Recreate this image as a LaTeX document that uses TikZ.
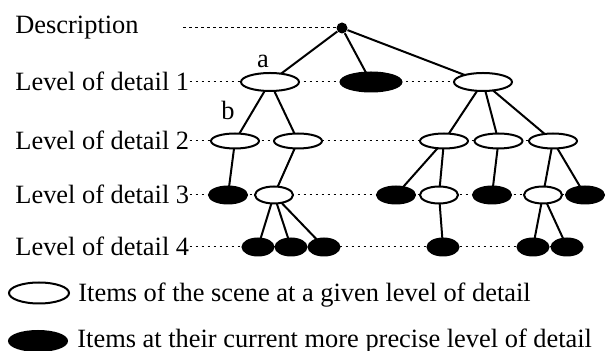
\documentclass[tikz,border=0pt]{standalone}
\usepackage{fontspec}
\setmainfont{Liberation Serif}
\usetikzlibrary{chains,positioning,shapes.geometric,backgrounds}

\begin{document}
\begin{tikzpicture}[
x=0.5pt, y=-0.5pt,
node distance=0pt,
font=\fontsize{13.2}{15}\selectfont,
    E/.style = {ellipse, draw, line width=1pt,% items of the scene
                inner sep=0pt, outer sep=0pt},
    W/.style = {E, fill=white},  % item at a given level
    K/.style = {E, fill=black},  % item at its most precise level
   L1/.style = {minimum width=29pt, minimum height=9pt},
   L2/.style = {minimum width=24pt, minimum height=7.5pt},
   L3/.style = {minimum width=19pt, minimum height=8.5pt},
   L4/.style = {minimum width=15.5pt, minimum height=8.5pt},
  lbl/.style = {anchor=base west, inner sep=0pt},
  dot/.style = {dash pattern=on 1.25pt off 1.75pt, line width=0.5pt},
 link/.style = {line width=1pt},
                    ]
\useasboundingbox (0,0) rectangle (610,351);
% names of the levels
\node[lbl] (desc) at (15,34)  {Description};
\node[lbl] (lod1) at (15,91)  {Level of detail 1};
\node[lbl] (lod2) at (15,150) {Level of detail 2};
\node[lbl] (lod3) at (15,204) {Level of detail 3};
\node[lbl] (lod4) at (15,256) {Level of detail 4};
% tree
\node[circle, fill, inner sep=0pt, minimum size=5.5pt] (root) at (342,28) {};
\coordinate (dstart) at (183,28);
\node[W,L1] (a1) at (270,82) {};
\node[K,L1,minimum width=30.5pt,minimum height=9.5pt] (a2) at (371,82) {};
\node[W,L1] (a3) at (483,82) {};
\node[anchor=base] (la) at (263,68) {a};

\node[W,L2] (b1) at (235,141) {};
\node[W,L2] (b2) at (298,141) {};
\node[W,L2] (b3) at (444,141) {};
\node[anchor=base] (lb) at (228,120) {b};
\begin{scope}[start chain=B going right, node distance=3.25pt]
\chainin (b3);
\node[W,L2,on chain] (b4) {};
\node[W,L2,on chain] (b5) {};
\end{scope}

\node[K,L3] (c1) at (228,195) {};
\node[W,L3] (c2) at (274,195) {};
\node[K,L3] (c3) at (396,195) {};
\node[W,L3] (c4) at (439,195) {};
\node[K,L3] (c5) at (492,195) {};
\node[W,L3] (c6) at (543,195) {};
\node[K,L3] (c7) at (585,195) {};

\node[K,L4] (d1) at (258,247) {};
\begin{scope}[start chain=D going right, node distance=1pt]
\chainin (d1);
\node[K,L4,on chain] (d2) {};
\node[K,L4,on chain] (d3) {};
\end{scope}
\node[K,L4] (d4) at (443,247) {};
\node[K,L4] (d5) at (533,247) {};
\node[K,L4] (d6) at (567,247) {};

\foreach \p/\c in {root/a1,root/a2,root/a3,a1/b1,a1/b2,a3/b3,a3/b4,a3/b5,
                   b1/c1,b2/c2,b3/c3,b3/c4,b4/c5,b5/c6,b5/c7,
                   c2/d1,c2/d2,c2/d3,c4/d4,c6/d5,c6/d6}
    \draw[link] (\p) -- (\c);

\begin{scope}[on background layer]
\draw[dot] (dstart) -- (root);
\draw[dot] (lod1.east |- a1) -- (a3);
\draw[dot] (lod2.east |- b1) -- (b5);
\draw[dot] (lod3.east |- c1) -- (c7);
\draw[dot] (lod4.east |- d1) -- (d6);
\end{scope}

% legend
\node[W, minimum width=30pt, minimum height=10.5pt] (kw) at (39,293) {};
\node[K, minimum width=29pt, minimum height=10pt] (kk) at (38,341) {};
\node[lbl] (tw) at (78,302) {Items of the scene at a given level of detail};
\node[lbl] (tk) at (77,348) {Items at their current more precise level of detail};
\end{tikzpicture}
\end{document}
